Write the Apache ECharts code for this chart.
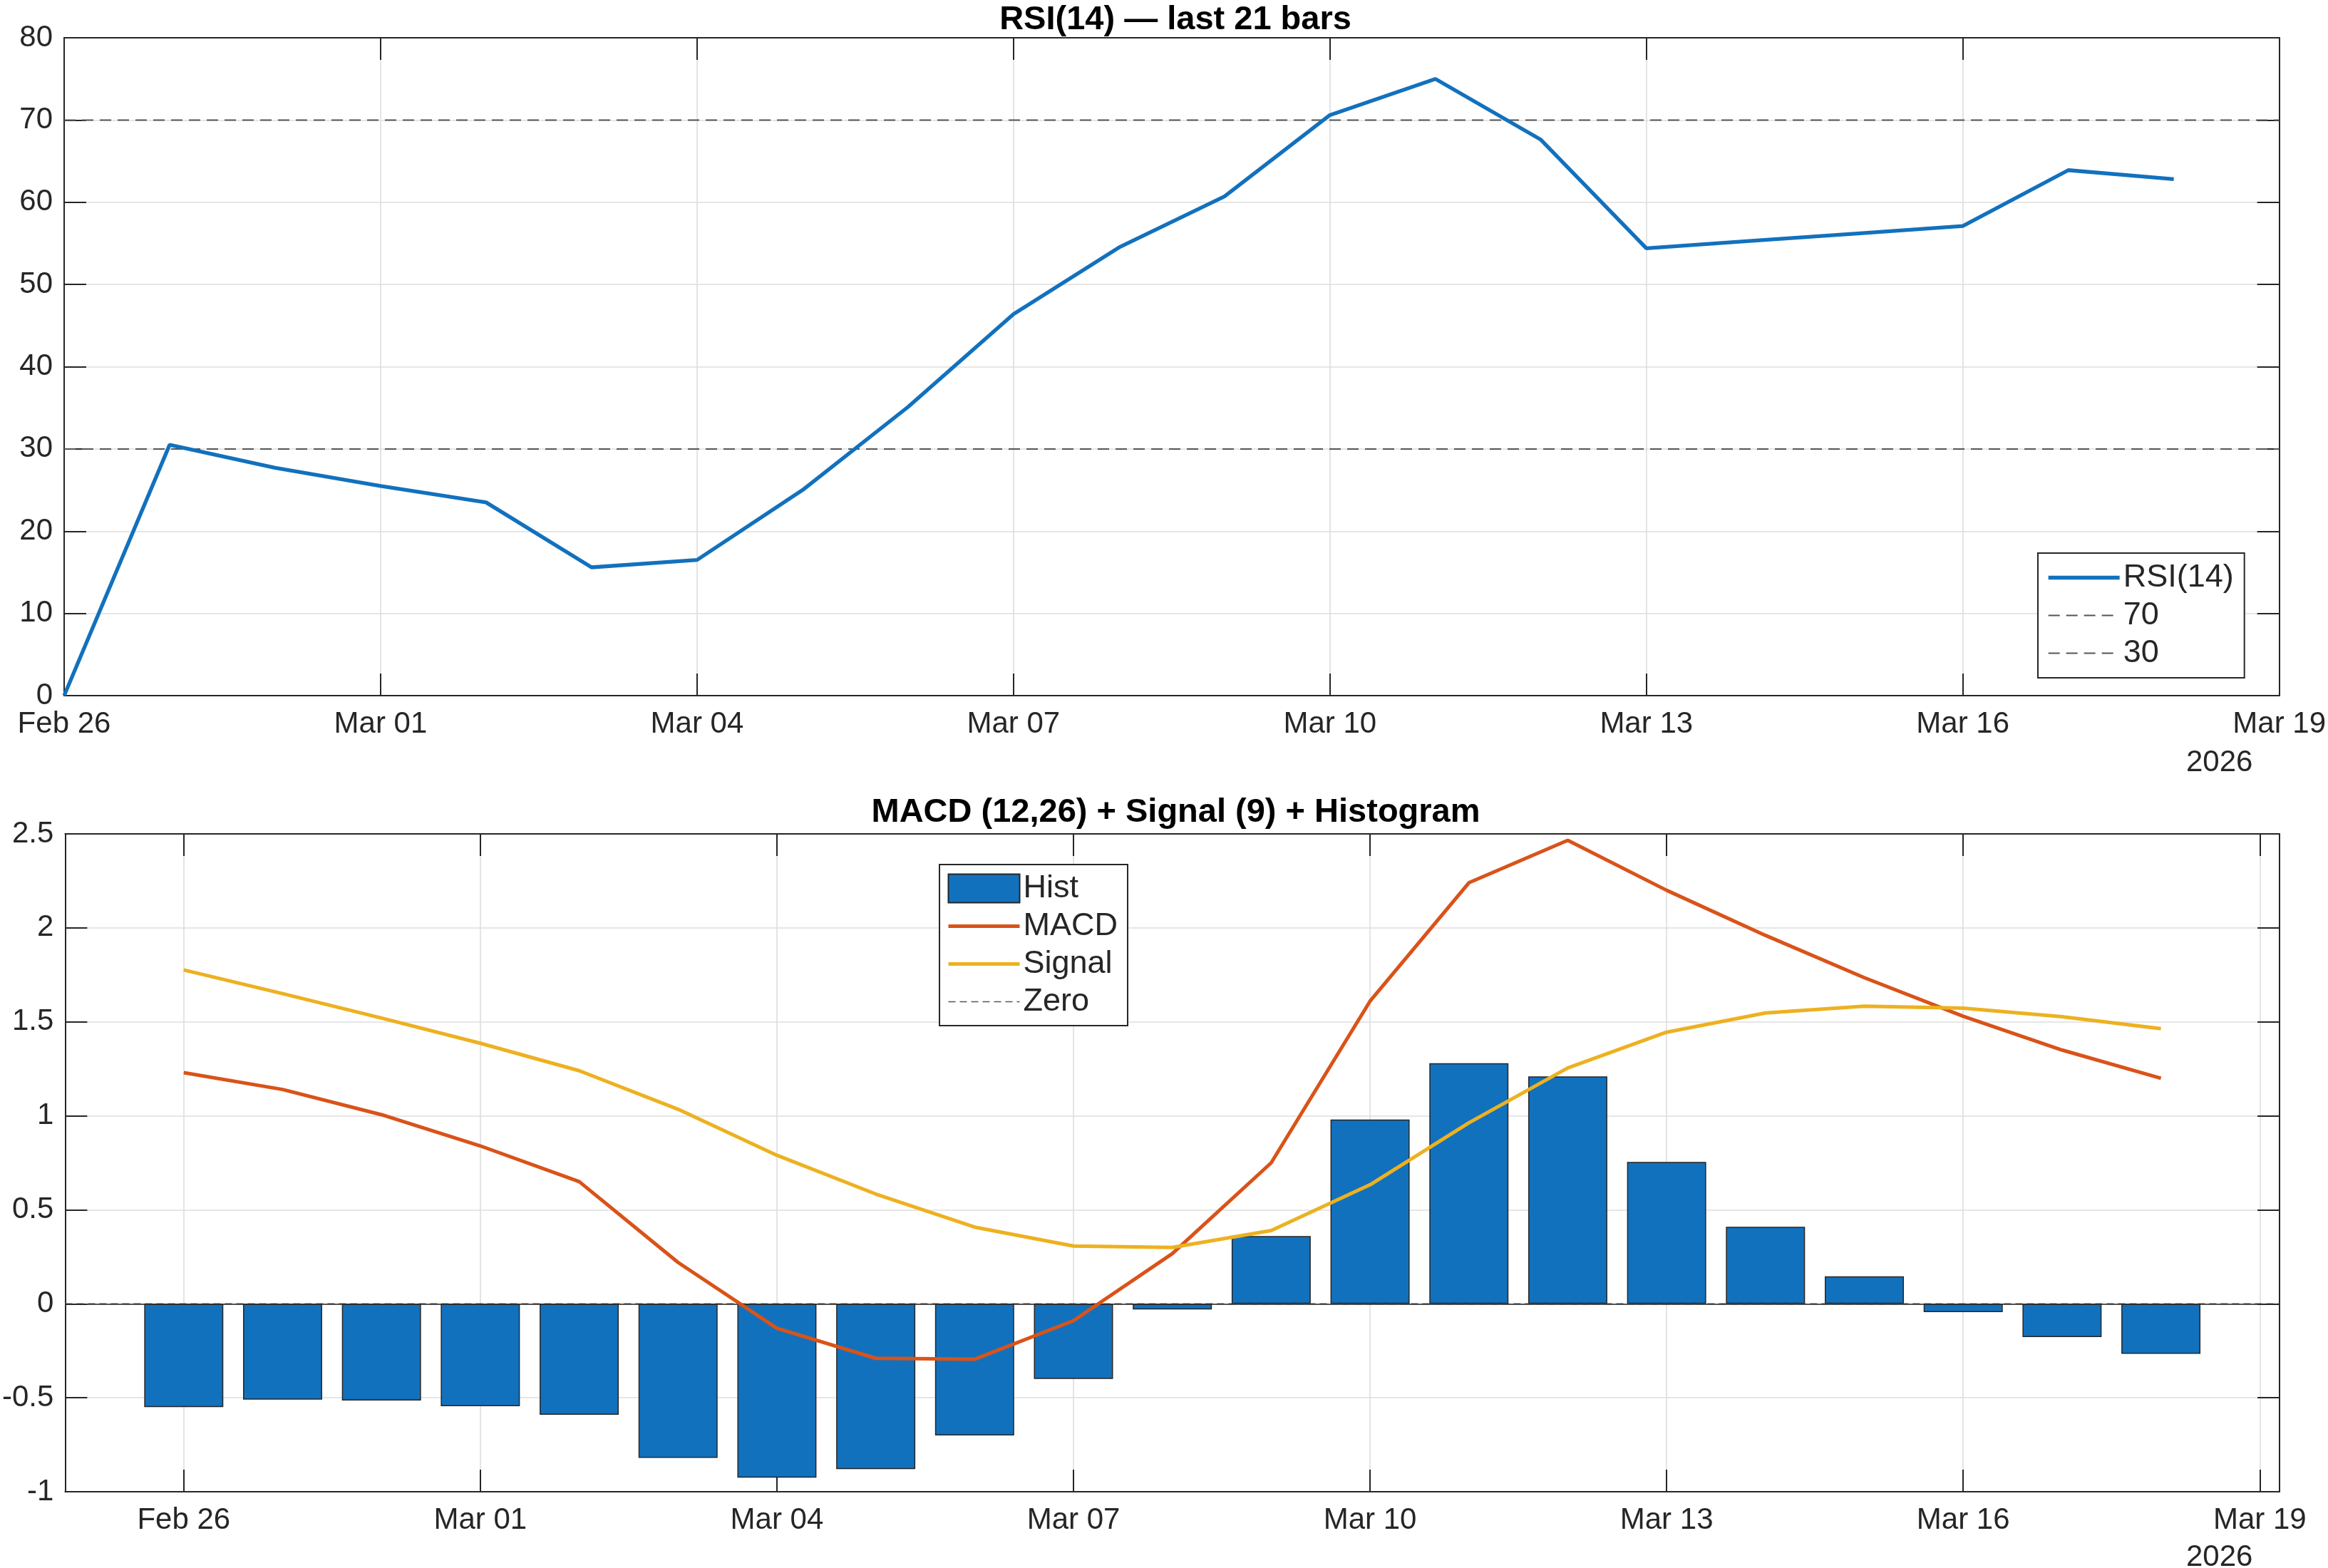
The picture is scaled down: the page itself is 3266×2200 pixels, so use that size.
<!DOCTYPE html>
<html lang="en">
<head>
<meta charset="UTF-8">
<title>RSI / MACD</title>
<style>
  html, body { margin: 0; padding: 0; background: #fff; }
  #main { width: 3266px; height: 2200px; }
</style>
</head>
<body>
<div id="main"></div>
<script src="https://cdn.jsdelivr.net/npm/echarts@6/dist/echarts.min.js"></script>
<script>
// one bar per calendar day, last 21 bars
var dates = ['2026-02-26', '2026-02-27', '2026-02-28', '2026-03-01', '2026-03-02', '2026-03-03', '2026-03-04',
             '2026-03-05', '2026-03-06', '2026-03-07', '2026-03-08', '2026-03-09', '2026-03-10', '2026-03-11',
             '2026-03-12', '2026-03-13', '2026-03-14', '2026-03-15', '2026-03-16', '2026-03-17', '2026-03-18'];
var rsi    = [0, 30.5, 27.7, 25.5, 23.5, 15.6, 16.5, 25.0, 35.1, 46.4, 54.5, 60.7, 70.6, 75.0, 67.6, 54.4, 55.3, 56.2, 57.1, 63.9, 62.8];
var macd   = [1.23, 1.14, 1.006, 0.84, 0.65, 0.22, -0.13, -0.29, -0.295, -0.09, 0.267, 0.75, 1.61, 2.24, 2.466, 2.20, 1.96, 1.735, 1.53, 1.35, 1.20];
var signal = [1.776, 1.65, 1.52, 1.386, 1.24, 1.035, 0.79, 0.584, 0.408, 0.307, 0.30, 0.39, 0.633, 0.963, 1.255, 1.445, 1.547, 1.583, 1.573, 1.527, 1.464];
var hist   = [-0.55, -0.51, -0.515, -0.545, -0.59, -0.82, -0.925, -0.88, -0.70, -0.40, -0.03, 0.36, 0.98, 1.28, 1.21, 0.755, 0.41, 0.146, -0.044, -0.177, -0.266];
var rsiLevels = [70, 30];
var xTickLabels = ['Feb 26', 'Mar 01', 'Mar 04', 'Mar 07', 'Mar 10', 'Mar 13', 'Mar 16', 'Mar 19'];
var yearLabel = '2026';

var DAY = 86400000;
function dayOf(d) { return (Date.parse(d) - Date.parse(dates[0])) / DAY; }
var xs = dates.map(dayOf);
var tickStep = 3;
var tickDays = xTickLabels.map(function (l, i) { return i * tickStep; });
var lastTick = tickDays[tickDays.length - 1];

// bottom axes are padded like matlab's bar() limits
var botMin = -1.2, botMax = lastTick + 0.2;

var FONT = '"Liberation Sans", Arial, Helvetica, sans-serif';
var INK = '#262626';
var GRID = '#dedede';
var g0 = { left: 90, top: 53, width: 3108, height: 923 };
var g1 = { left: 91, top: 1170, width: 3107, height: 923 };

function pairs(y) { return xs.map(function (x, i) { return [x, y[i]]; }); }
function tickLabel(v) { return xTickLabels[Math.round(v / tickStep)] || ''; }

function axis(grid, pos, extra) {
    var a = {
        type: 'value', gridIndex: grid, position: pos,
        axisLine: { show: true, onZero: false, lineStyle: { color: INK, width: 2 } },
        axisTick: { show: true, inside: true, length: 31, lineStyle: { color: INK, width: 2 } },
        axisLabel: { show: false },
        splitLine: { show: false }
    };
    return Object.assign(a, extra);
}
var lblStyle = { show: true, color: INK, fontSize: 42, fontFamily: FONT };
var splitStyle = { show: true, lineStyle: { color: GRID, width: 1.6 } };

var xAxes = [
    axis(0, 'bottom', { min: 0, max: lastTick, interval: tickStep,
        axisLabel: Object.assign({}, lblStyle, { margin: 19, formatter: tickLabel, showMinLabel: true, showMaxLabel: true }),
        splitLine: splitStyle }),
    axis(0, 'top', { min: 0, max: lastTick, interval: tickStep }),
    axis(1, 'bottom', { min: botMin, max: botMax,
        axisTick: { show: true, inside: true, length: 31, customValues: tickDays, lineStyle: { color: INK, width: 2 } },
        axisLabel: Object.assign({}, lblStyle, { margin: 19, customValues: tickDays, formatter: tickLabel }),
        splitLine: splitStyle }),
    axis(1, 'top', { min: botMin, max: botMax,
        axisTick: { show: true, inside: true, length: 31, customValues: tickDays, lineStyle: { color: INK, width: 2 } } })
];
var yAxes = [
    axis(0, 'left', { min: 0, max: 80, interval: 10,
        axisLabel: Object.assign({}, lblStyle, { margin: 16 }), splitLine: splitStyle }),
    axis(0, 'right', { min: 0, max: 80, interval: 10 }),
    axis(1, 'left', { min: -1, max: 2.5, interval: 0.5,
        axisLabel: Object.assign({}, lblStyle, { margin: 16 }), splitLine: splitStyle }),
    axis(1, 'right', { min: -1, max: 2.5, interval: 0.5 })
];

var series = [
    {
        name: 'RSI(14)', type: 'line', xAxisIndex: 0, yAxisIndex: 0,
        data: pairs(rsi), symbol: 'none', z: 5,
        lineStyle: { color: '#1271BD', width: 5.3 }, itemStyle: { color: '#1271BD' }
    }
];
rsiLevels.forEach(function (lv) {
    series.push({
        name: String(lv), type: 'line', xAxisIndex: 0, yAxisIndex: 0,
        data: [[0, lv], [lastTick, lv]], symbol: 'none', z: 4,
        lineStyle: { color: '#555555', width: 2, type: [16, 9] }, itemStyle: { color: '#555555' }
    });
});

var barW = 0.8 * g1.width / (botMax - botMin);
series.push({
    name: 'Hist', type: 'bar', xAxisIndex: 2, yAxisIndex: 2,
    data: pairs(hist), barWidth: barW, z: 2,
    itemStyle: { color: '#1271BD', borderColor: INK, borderWidth: 1.5 },
    markLine: {
        silent: true, symbol: 'none', label: { show: false },
        lineStyle: { color: INK, width: 1.5, type: 'solid' },
        data: [{ yAxis: 0 }]
    }
});
series.push({
    name: 'MACD', type: 'line', xAxisIndex: 2, yAxisIndex: 2,
    data: pairs(macd), symbol: 'none', z: 5,
    lineStyle: { color: '#D95319', width: 5 }, itemStyle: { color: '#D95319' }
});
series.push({
    name: 'Signal', type: 'line', xAxisIndex: 2, yAxisIndex: 2,
    data: pairs(signal), symbol: 'none', z: 5,
    lineStyle: { color: '#EDB120', width: 5 }, itemStyle: { color: '#EDB120' }
});
series.push({
    name: 'Zero', type: 'line', xAxisIndex: 2, yAxisIndex: 2,
    data: [[botMin, 0], [botMax, 0]], symbol: 'none', z: 3,
    lineStyle: { color: '#555555', width: 1.5, type: [10, 6] }, itemStyle: { color: '#555555' }
});

// line entries: hide the round marker echarts puts in the middle of the icon
function lineItem(name, w) {
    return { name: name, itemStyle: { opacity: 0 }, lineStyle: { width: w } };
}

var legendBase = {
    orient: 'vertical', itemWidth: 100, itemHeight: 40, itemGap: 8,
    backgroundColor: '#fff', borderColor: INK, borderWidth: 2, borderRadius: 0,
    selectedMode: false,
    textStyle: { color: INK, fontSize: 45, fontFamily: FONT }
};

var option = {
    animation: false,
    backgroundColor: '#fff',
    title: [
        { text: 'RSI(14) \u2014 last 21 bars', left: g0.left + g0.width / 2, textAlign: 'center', top: 0,
          textStyle: { fontSize: 47, fontWeight: 'bold', color: '#000', fontFamily: FONT } },
        { text: 'MACD (12,26) + Signal (9) + Histogram', left: g1.left + g1.width / 2, textAlign: 'center', top: 1112,
          textStyle: { fontSize: 47, fontWeight: 'bold', color: '#000', fontFamily: FONT } }
    ],
    grid: [
        Object.assign({ containLabel: false }, g0),
        Object.assign({ containLabel: false }, g1)
    ],
    legend: [
        Object.assign({}, legendBase, {
            data: [lineItem('RSI(14)', 5.3), lineItem('70', 2), lineItem('30', 2)],
            left: 2859, top: 776, padding: [12, 15, 12, 12] }),
        Object.assign({}, legendBase, {
            data: [{ name: 'Hist', icon: 'rect' }, lineItem('MACD', 5), lineItem('Signal', 5), lineItem('Zero', 1.5)],
            left: 1318, top: 1213, padding: [11, 14, 11, 10] })
    ],
    xAxis: xAxes,
    yAxis: yAxes,
    series: series,
    graphic: [
        { type: 'text', left: 3067, top: 1049, style: { text: yearLabel, fill: INK, font: '42px ' + FONT } },
        { type: 'text', left: 3067, top: 2164, style: { text: yearLabel, fill: INK, font: '42px ' + FONT } }
    ]
};

var chart = echarts.init(document.getElementById('main'));
chart.setOption(option);
</script>
</body>
</html>
